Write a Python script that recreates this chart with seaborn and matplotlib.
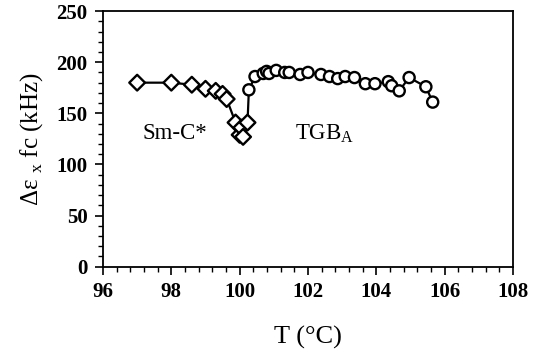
import matplotlib
matplotlib.use("Agg")
import matplotlib.pyplot as plt
from matplotlib.ticker import MultipleLocator
import numpy as np
import pandas as pd
import seaborn as sns

# Sm-C* phase (diamonds)
smc_T = [97.0, 98.0, 98.6, 99.0, 99.3, 99.5, 99.62, 99.88, 100.0, 100.05, 100.1, 100.23]
smc_v = [180, 180, 178, 174, 172, 169, 164, 141, 129, 136, 127, 141]

# TGB_A phase (circles)
tgb_T = [100.27, 100.45, 100.69, 100.79, 100.86, 101.07, 101.32, 101.45, 101.77, 102.0,
         102.38, 102.63, 102.87, 103.09, 103.36, 103.68, 103.96, 104.35, 104.45, 104.67,
         104.96, 105.45, 105.65]
tgb_v = [173, 186, 189, 191, 189, 192, 190, 190, 188, 190,
         188, 186, 184, 186, 185, 179, 179, 181, 177, 172,
         185, 176, 161]

x_ticks = [96, 98, 100, 102, 104, 106, 108]
y_ticks = [0, 50, 100, 150, 200, 250]

df = pd.DataFrame({
    "T": smc_T + tgb_T,
    "v": smc_v + tgb_v,
    "phase": ["Sm-C*"] * len(smc_T) + ["TGB_A"] * len(tgb_T),
})

sns.set_theme(style="ticks")
plt.rcParams["font.family"] = ["Liberation Serif", "DejaVu Serif"]
plt.rcParams["mathtext.fontset"] = "custom"
plt.rcParams["mathtext.rm"] = "Liberation Serif"

fig = plt.figure(figsize=(5.44, 3.58), dpi=100)
ax = fig.add_axes([0.1893, 0.255, 0.7537, 0.714])

sns.lineplot(data=df, x="T", y="v", estimator=None, sort=False,
             color="black", lw=1.6, ax=ax, legend=False, zorder=2)
sns.scatterplot(data=df, x="T", y="v", style="phase",
                markers={"Sm-C*": "D", "TGB_A": "o"},
                s=64, facecolor="white", edgecolor="black", linewidth=1.7,
                ax=ax, legend=False, zorder=3)

ax.set_xlim(96, 108)
ax.set_ylim(0, 250)
ax.set_xticks(x_ticks)
ax.set_yticks(y_ticks)
ax.xaxis.set_minor_locator(MultipleLocator(0.4))
ax.yaxis.set_minor_locator(MultipleLocator(10))
ax.tick_params(which="major", direction="out", length=6, width=1.2, color="black",
               labelsize=15, pad=5)
ax.tick_params(which="minor", direction="out", length=3.5, width=1.0, color="black")
for lab in ax.get_xticklabels() + ax.get_yticklabels():
    lab.set_fontweight("bold")
    lab.set_color("black")

for sp in ax.spines.values():
    sp.set_visible(True)
    sp.set_color("black")
    sp.set_linewidth(1.3)

ax.set_xlabel("T (°C)", fontsize=19, color="black", labelpad=17)
ax.set_ylabel(r"Δε $_\mathregular{x}$ fc (kHz)", fontsize=18, color="black", labelpad=8)

ax.text(98.1, 130, "Sm-C*", fontsize=16.5, ha="center", va="center", color="black")
ax.text(102.5, 130, r"TGB$_\mathregular{A}$", fontsize=16.5, ha="center", va="center",
        color="black")

fig.savefig("out.png", dpi=100)
